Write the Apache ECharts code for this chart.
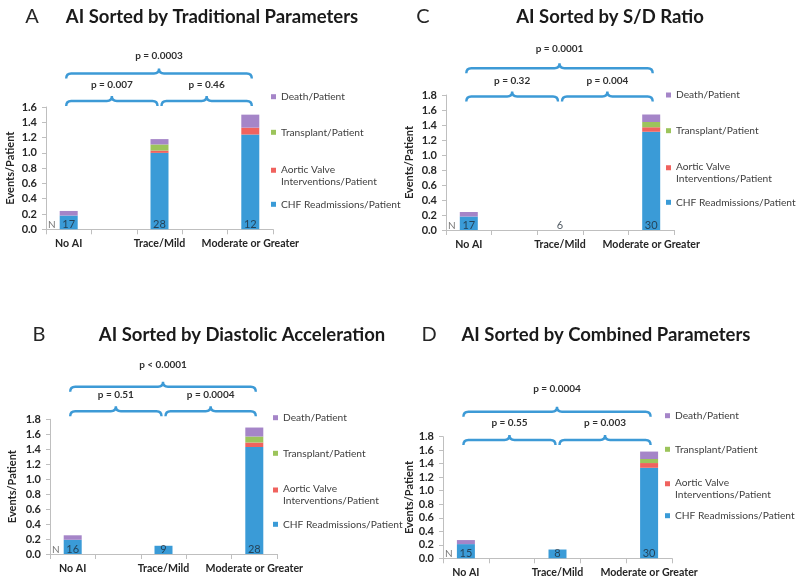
<!DOCTYPE html>
<html><head><meta charset="utf-8">
<script src="https://cdn.jsdelivr.net/npm/echarts@6/dist/echarts.min.js"></script>
<style>html,body{margin:0;padding:0;background:#fff}#c{width:800px;height:585px}</style>
</head><body><div id="c"></div>
<script>
// ---------- data ----------
const groups = ['No AI', 'Trace/Mild', 'Moderate or Greater'];
const seriesNames = ['CHF Readmissions/Patient', 'Aortic Valve Interventions/Patient', 'Transplant/Patient', 'Death/Patient'];
const yLabel = 'Events/Patient';

const titleA = 'AI Sorted by Traditional Parameters';
const chfA = [0.18, 1.00, 1.24];
const avA = [0, 0.03, 0.09];
const txA = [0, 0.08, 0];
const deathA = [0.06, 0.07, 0.17];
const nA = [17, 28, 12];
const pA = ['p = 0.007', 'p = 0.46', 'p = 0.0003'];

const titleB = 'AI Sorted by Diastolic Acceleration';
const chfB = [0.19, 0.11, 1.43];
const avB = [0, 0, 0.06];
const txB = [0, 0, 0.08];
const deathB = [0.06, 0, 0.12];
const nB = [16, 9, 28];
const pB = ['p = 0.51', 'p = 0.0004', 'p < 0.0001'];

const titleC = 'AI Sorted by S/D Ratio';
const chfC = [0.18, 0, 1.31];
const avC = [0, 0, 0.06];
const txC = [0, 0, 0.07];
const deathC = [0.06, 0, 0.10];
const nC = [17, 6, 30];
const pC = ['p = 0.32', 'p = 0.004', 'p = 0.0001'];

const titleD = 'AI Sorted by Combined Parameters';
const chfD = [0.21, 0.13, 1.34];
const avD = [0, 0, 0.07];
const txD = [0, 0, 0.06];
const deathD = [0.06, 0, 0.11];
const nD = [15, 8, 30];
const pD = ['p = 0.55', 'p = 0.003', 'p = 0.0004'];

const yMaxA = 1.6, yMaxB = 1.8, yMaxC = 1.8, yMaxD = 1.8;

// ---------- layout / style ----------
const colors = ['#3A9BD7', '#F0625E', '#9CC45B', '#A585C8'];
const bracketColor = '#3D9AD6';
const FONT = 'Lato, "Open Sans", sans-serif';
const slotOf = [0, 2, 4];           // categories sit in slots 0,2,4 of a 5-slot axis
const slotLabels = ['No AI', '', 'Trace/Mild', '', 'Moderate or Greater'];

const panels = [
  { letter: 'A', title: titleA, vals: [chfA, avA, txA, deathA], n: nA, p: pA, yMax: yMaxA,
    grid: { left: 46, top: 107, width: 227, height: 122.3 }, letterPos: [32, 17], titlePos: [212, 17],
    legendX: 271, legendY: [204.3, 169.3, 132.3, 96.7], nameGap: 30,
    innerY: -6, outerY: -33.5, innerTextY: -22, outerTextY: -51 },
  { letter: 'B', title: titleB, vals: [chfB, avB, txB, deathB], n: nB, p: pB, yMax: yMaxB,
    grid: { left: 50, top: 419.3, width: 227, height: 134.7 }, letterPos: [39, 335], titlePos: [242, 335],
    legendX: 273, legendY: [524.3, 489, 453.3, 417.7], nameGap: 32,
    innerY: -8, outerY: -32.6, innerTextY: -24.3, outerTextY: -54.3 },
  { letter: 'C', title: titleC, vals: [chfC, avC, txC, deathC], n: nC, p: pC, yMax: yMaxC,
    grid: { left: 446, top: 95, width: 228, height: 135 }, letterPos: [423, 17], titlePos: [610, 17],
    legendX: 666, legendY: [202.3, 166.7, 130.7, 95], nameGap: 31,
    innerY: 1.5, outerY: -26.7, innerTextY: -14.3, outerTextY: -46.7 },
  { letter: 'D', title: titleD, vals: [chfD, avD, txD, deathD], n: nD, p: pD, yMax: yMaxD,
    grid: { left: 443, top: 436.7, width: 229, height: 121.6 }, letterPos: [429, 335], titlePos: [606, 335],
    legendX: 665, legendY: [515.7, 482.7, 449.3, 415.7], nameGap: 28,
    innerY: 3.3, outerY: -25, innerTextY: -14.4, outerTextY: -47.7 }
];

function toSlots(arr) {
  const out = [null, null, null, null, null];
  arr.forEach((v, i) => { out[slotOf[i]] = v; });
  return out;
}

function bracketPath(x0, x1, y, drop, peak, r) {
  const xm = (x0 + x1) / 2;
  return `M${x0},${y + drop} Q${x0},${y} ${x0 + r},${y} L${xm - r},${y} Q${xm},${y} ${xm},${y - peak} ` +
         `Q${xm},${y} ${xm + r},${y} L${x1 - r},${y} Q${x1},${y} ${x1},${y + drop}`;
}

const option = {
  animation: false,
  backgroundColor: '#fff',
  textStyle: { fontFamily: FONT },
  grid: [], xAxis: [], yAxis: [], series: [], legend: [], graphic: []
};

// icon with the square at the top part (for the two-line legend entry)
const tallIcon = 'path://M0,0h0.01v0.01h-0.01z M0,3h6v6h-6z M0,23.99h0.01v0.01h-0.01z';
const clear = 'rgba(0,0,0,0)';

panels.forEach((P, pi) => {
  option.grid.push(Object.assign({ containLabel: false }, P.grid));
  option.xAxis.push({
    type: 'category', gridIndex: pi, data: slotLabels,
    axisLine: { lineStyle: { color: '#BFBFBF', width: 1 } },
    axisTick: { show: true, length: 5, lineStyle: { color: '#BFBFBF' } },
    axisLabel: { interval: 0, fontFamily: FONT, fontWeight: 'bold', fontSize: 10.6, color: '#262626', margin: 9 },
    splitLine: { show: false }
  });
  option.yAxis.push({
    type: 'value', gridIndex: pi, min: 0, max: P.yMax, interval: 0.2,
    name: yLabel, nameLocation: 'middle', nameGap: P.nameGap, nameMoveOverlap: false,
    nameTextStyle: { fontFamily: FONT, fontWeight: 'bold', fontSize: 11, color: '#262626' },
    axisLine: { show: true, lineStyle: { color: '#BFBFBF', width: 1 } },
    axisTick: { show: true, length: 4, lineStyle: { color: '#BFBFBF' } },
    axisLabel: { fontFamily: FONT, fontWeight: 'bold', fontSize: 11, color: '#262626', margin: 9,
      formatter: v => v.toFixed(1) },
    splitLine: { show: false }
  });

  seriesNames.forEach((nm, si) => {
    option.series.push({
      type: 'bar', name: nm, xAxisIndex: pi, yAxisIndex: pi, stack: 'p' + pi,
      barWidth: 18, itemStyle: { color: colors[si] },
      data: toSlots(P.vals[si])
    });
    const isTall = si === 1;
    option.legend.push({
      data: [nm], orient: 'vertical', selectedMode: false, padding: 0,
      left: P.legendX, top: isTall ? P.legendY[si] - 6 : P.legendY[si] - 7,
      icon: isTall ? tallIcon : 'rect',
      itemWidth: 5, itemHeight: isTall ? 24 : 5,
      formatter: n => n === 'Aortic Valve Interventions/Patient' ? 'Aortic Valve\nInterventions/Patient' : n,
      textStyle: { fontFamily: FONT, fontSize: 10.2, color: '#404040', lineHeight: isTall ? 12 : 14 }
    });
  });

  // N counts at the base of each bar
  option.series.push({
    type: 'scatter', xAxisIndex: pi, yAxisIndex: pi, symbolSize: 1, z: 5,
    itemStyle: { color: clear }, silent: true,
    data: P.n.map((v, i) => [slotOf[i], 0, v]),
    label: { show: true, position: 'top', distance: -1, formatter: p => String(p.value[2]),
      fontFamily: FONT, fontSize: 11, color: '#1E2A36' },
    labelLayout: { hideOverlap: false }
  });
  option.series.push({
    type: 'scatter', xAxisIndex: pi, yAxisIndex: pi, symbolSize: 1, z: 5,
    itemStyle: { color: clear }, silent: true,
    data: [[0, 0, 'N']],
    label: { show: true, position: 'top', distance: -1, offset: [-17, 0], formatter: 'N',
      fontFamily: FONT, fontSize: 10, color: '#555' }
  });

  // significance brackets: [fromSlot, toSlot, level]
  const comps = [[0, 2, 0], [2, 4, 0], [0, 4, 1]];
  option.series.push({
    type: 'custom', xAxisIndex: pi, yAxisIndex: pi, silent: true, z: 6,
    encode: { x: [0, 1], y: 2 },
    data: comps,
    renderItem: (params, api) => {
      const a = api.value(0), b = api.value(1), lvl = api.value(2);
      const top = api.coord([0, P.yMax])[1];
      let x0 = api.coord([a, 0])[0], x1 = api.coord([b, 0])[0];
      if (a === 0) x0 -= 2.5; else x0 += 2;
      if (b === 4) x1 += 1.5; else x1 -= 2;
      const y = top + (lvl ? P.outerY : P.innerY);
      const ty = top + (lvl ? P.outerTextY : P.innerTextY);
      return {
        type: 'group',
        children: [
          { type: 'path', shape: { pathData: bracketPath(x0, x1, y, 5, 5, 5) },
            style: { stroke: bracketColor, fill: null, lineWidth: 2.4 } },
          { type: 'text', style: { text: P.p[params.dataIndex], x: (x0 + x1) / 2, y: ty,
            align: 'center', verticalAlign: 'middle', fill: '#303030',
            font: 'bold 10px ' + FONT } }
        ]
      };
    }
  });

  option.graphic.push({ type: 'text', x: P.letterPos[0], y: P.letterPos[1],
    style: { text: P.letter, align: 'center', verticalAlign: 'middle', fill: '#262626', font: '20px ' + FONT } });
  option.graphic.push({ type: 'text', x: P.titlePos[0], y: P.titlePos[1],
    style: { text: P.title, align: 'center', verticalAlign: 'middle', fill: '#1A1A1A', font: 'bold 18.5px ' + FONT } });
});

const chart = echarts.init(document.getElementById('c'), null, { renderer: 'canvas' });
chart.setOption(option);
</script>
</body></html>
